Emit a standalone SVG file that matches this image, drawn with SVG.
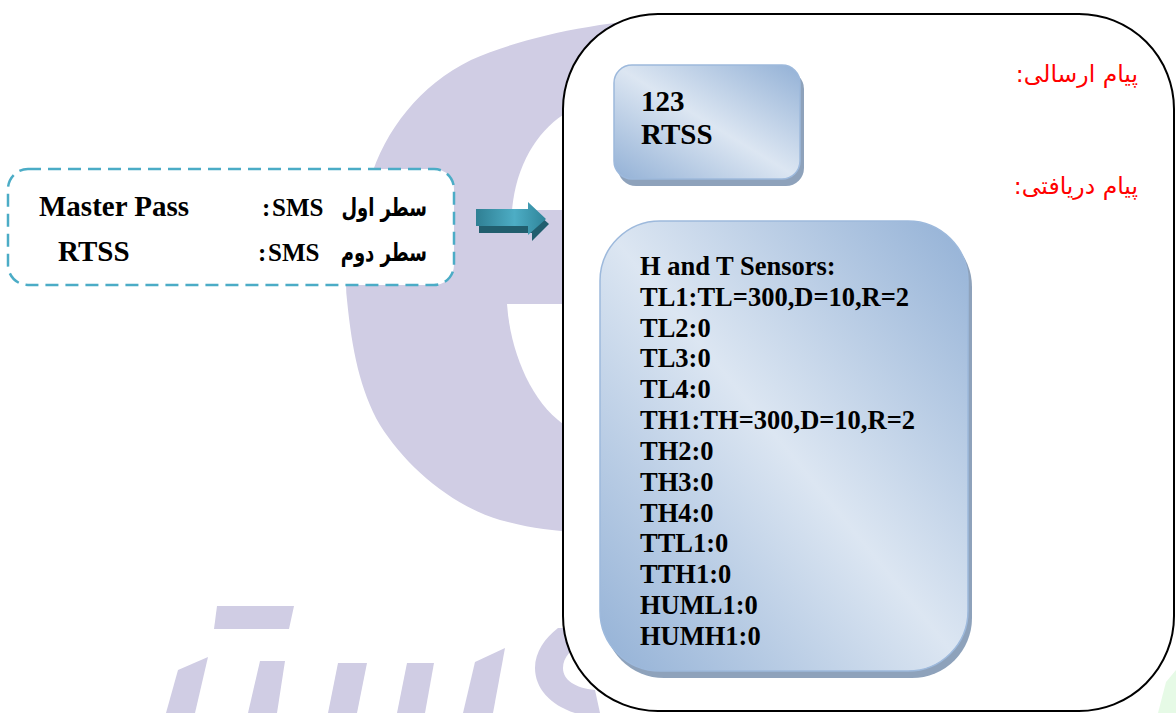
<svg xmlns="http://www.w3.org/2000/svg" width="1176" height="713" viewBox="0 0 1176 713">
<style>
.wm{fill:#D0CDE4}
.lat{font-family:"Liberation Serif","Times New Roman",serif;font-weight:bold;fill:#000}
.ar{font-family:"DejaVu Sans",sans-serif;font-weight:bold;fill:#000}
.red{font-family:"DejaVu Sans",sans-serif;fill:#FF0000;font-size:23.5px}
.blue{stroke:#9DB9DC;stroke-width:1.5}
.shadow{fill:#8EA2BB}
</style>
<defs>
<linearGradient id="bg" x1="1" y1="0" x2="0" y2="1">
<stop offset="0" stop-color="#93B1D6"/>
<stop offset="0.5" stop-color="#DCE6F2"/>
<stop offset="1" stop-color="#93B1D6"/>
</linearGradient>
<linearGradient id="ag" x1="0" y1="0" x2="1" y2="0">
<stop offset="0" stop-color="#2F7F93"/>
<stop offset="0.55" stop-color="#4DADC5"/>
<stop offset="1" stop-color="#2F8499"/>
</linearGradient>
</defs>
<rect width="1176" height="713" fill="#FFFFFF"/>
<g id="watermark">
<path class="wm" d="M680 18 C600 20 520 38 471 60 C420 85 385 130 370 180 C352 230 343 270 347 300 C352 350 360 390 380 425 C405 465 450 505 500 520 C530 528 550 531 580 532 L700 532 L700 18 Z"/>
<path fill="#FFFFFF" d="M512 210 C516 165 537 132 563 115 L600 115 L600 210 Z"/>
<path fill="#FFFFFF" d="M507 304 L600 304 L600 430 L563 424 C530 400 510 350 507 304 Z"/>
<polygon class="wm" points="217,606 294,606 289,629 214,629"/>
<polygon class="wm" points="178,670 208,657 195,713 166,713"/>
<polygon class="wm" points="260,661 285,661 277,713 248,713"/>
<polygon class="wm" points="338,663 367,663 357,713 328,713"/>
<polygon class="wm" points="407,663 434,663 425,713 397,713"/>
<polygon class="wm" points="475,662 505,648 493,713 463,713"/>
<path class="wm" d="M558 628 L585 628 L585 640 C572 648 563 657 563 668 C563 680 575 688 595 690 L600 713 L575 713 C550 705 535 688 535 668 C535 652 545 638 558 628 Z"/>
<polygon fill="#E6FAE6" points="1158,713 1166,682 1176,670 1176,713"/>
</g>
<g id="source">
<rect x="8" y="169" width="446" height="116" rx="20" fill="#FFFFFF" stroke="#4BACC6" stroke-width="2.5" stroke-dasharray="13 7"/>
<text class="lat" x="39" y="216" font-size="29">Master Pass</text>
<text class="lat" x="58" y="261" font-size="29">RTSS</text>
<text class="lat" x="262" y="216" font-size="25">:</text>
<text class="lat" x="272" y="216" font-size="25">SMS</text>
<text class="ar" transform="translate(427,216) scale(0.72,1)" x="0" y="0" font-size="25" text-anchor="end">سطر اول</text>
<text class="lat" x="258" y="261" font-size="25">:</text>
<text class="lat" x="268" y="261" font-size="25">SMS</text>
<text class="ar" transform="translate(427,261) scale(0.72,1)" x="0" y="0" font-size="25" text-anchor="end">سطر دوم</text>
</g>
<g id="connectors">
<path fill="#215E6E" d="M479 215 L531 215 L531 208 L549 224 L532 241 L532 233 L479 233 Z"/>
<path fill="url(#ag)" d="M476 209 L528 209 L528 202 L546 219 L528 235 L528 226 L476 226 Z"/>
</g>
<g id="phone">
<rect x="563" y="14" width="611" height="697" rx="95" fill="#FFFFFF" stroke="#000" stroke-width="2"/>
<text class="red" x="1138" y="82" text-anchor="end">پیام ارسالی:&#x200F;</text>
<text class="red" x="1138" y="194" text-anchor="end">پیام دریافتی:&#x200F;</text>
</g>
<g id="sent">
<rect class="shadow" x="618" y="71" width="186" height="115" rx="18"/>
<rect class="blue" x="614" y="65" width="186" height="114" rx="18" fill="url(#bg)"/>
<text class="lat" x="641" y="111" font-size="29">123</text>
<text class="lat" x="641" y="144" font-size="29">RTSS</text>
</g>
<g id="received">
<rect class="shadow" x="604" y="227" width="368" height="451" rx="60"/>
<rect class="blue" x="600" y="221" width="368" height="450" rx="60" fill="url(#bg)"/>
<g class="lat" font-size="26.5">
<text x="640" y="275">H and T Sensors:</text>
<text x="640" y="306">TL1:TL=300,D=10,R=2</text>
<text x="640" y="337">TL2:0</text>
<text x="640" y="367">TL3:0</text>
<text x="640" y="398">TL4:0</text>
<text x="640" y="429">TH1:TH=300,D=10,R=2</text>
<text x="640" y="460">TH2:0</text>
<text x="640" y="491">TH3:0</text>
<text x="640" y="522">TH4:0</text>
<text x="640" y="552">TTL1:0</text>
<text x="640" y="583">TTH1:0</text>
<text x="640" y="614">HUML1:0</text>
<text x="640" y="645">HUMH1:0</text>
</g>
</g>
</svg>
